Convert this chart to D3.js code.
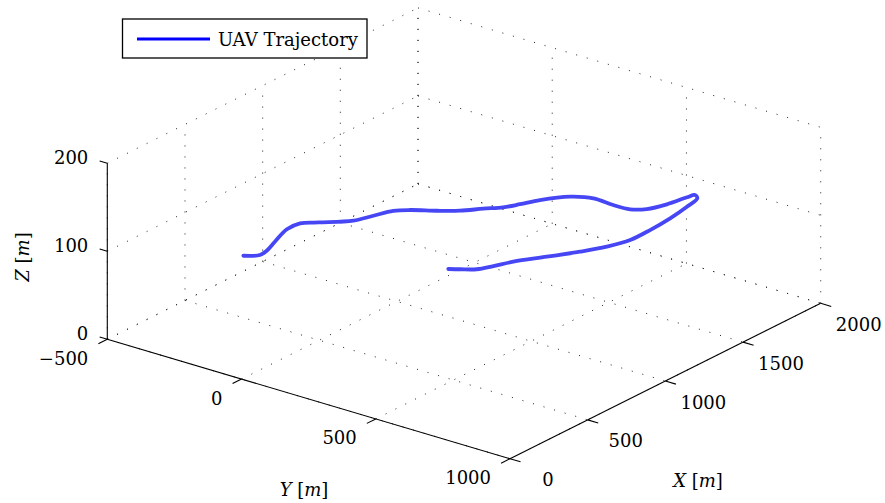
<!DOCTYPE html>
<html>
<head>
<meta charset="utf-8">
<script src="https://cdn.jsdelivr.net/npm/d3@7"></script>
<style>
  html, body { margin: 0; padding: 0; background: #fff; }
</style>
</head>
<body>
<svg id="chart" width="885" height="503"></svg>
<script>
// ---------------- data ----------------
const xTicks = [0, 500, 1000, 1500, 2000];
const yTicks = [-500, 0, 500, 1000];
const zTicks = [0, 100, 200];
const xTickLabels = ["0", "500", "1000", "1500", "2000"];
const yTickLabels = ["\u2212500", "0", "500", "1000"];
const zTickLabels = ["0", "100", "200"];
const seriesName = "UAV Trajectory";

// UAV trajectory (metres)
const trajX = [290, 336, 387, 479, 608, 688, 740, 837, 925, 1011, 1059, 1117, 1173, 1245, 1304, 1369, 1451, 1550, 1593, 1586, 1592, 1634, 1720, 1825, 1863, 1842, 1749, 1615, 1472, 1344, 1234, 1129, 1009, 889, 806, 740, 700, 674];
const trajY = [-161, -126, -130, -153, -183, -180, -140, -68, -44, -20, 15, 81, 135, 180, 220, 245, 272, 327, 389, 467, 526, 564, 589, 603, 611, 632, 647, 662, 670, 670, 646, 607, 553, 498, 472, 448, 409, 380];
const trajZ = [100, 100, 100, 100, 100, 100, 100, 100, 100, 100, 100, 100, 100, 100, 100, 100, 100, 100, 100, 100, 100, 100, 100, 100, 100, 100, 100, 100, 100, 100, 100, 100, 100, 100, 100, 100, 100, 100];

// ---------------- projection ----------------
const xS = d3.scaleLinear().domain([0, 2000]).range([0, 1]);
const yS = d3.scaleLinear().domain([-500, 1000]).range([0, 1]);
const zS = d3.scaleLinear().domain([0, 200]).range([0, 1]);
const P0 = [107.3, 339.3];
const vX = [310.7, -155.4];
const vY = [402.7, 119.4];
const vZ = [0, -176];
function proj(X, Y, Z) {
  const a = xS(X), b = yS(Y), c = zS(Z);
  return [P0[0] + a * vX[0] + b * vY[0] + c * vZ[0],
          P0[1] + a * vX[1] + b * vY[1] + c * vZ[1]];
}
function unit(v) { const l = Math.hypot(v[0], v[1]); return [v[0] / l, v[1] / l]; }
const uX = unit(vX), uY = unit(vY);

const FONT = "'DejaVu Serif', 'Liberation Serif', serif";
const svg = d3.select("#chart").style("font-family", FONT);
const FS = 18;

// ---------------- grid ----------------
const gGrid = svg.append("g")
  .attr("stroke", "#222").attr("stroke-width", 1)
  .attr("stroke-dasharray", "1,10").attr("fill", "none");
function seg(a, b) {
  gGrid.append("line").attr("x1", a[0]).attr("y1", a[1]).attr("x2", b[0]).attr("y2", b[1]);
}
const [x0, x1] = xS.domain(), [y0, y1] = yS.domain(), [z0, z1] = zS.domain();
xTicks.forEach(x => seg(proj(x, y0, z0), proj(x, y1, z0)));
yTicks.forEach(y => seg(proj(x0, y, z0), proj(x1, y, z0)));
xTicks.forEach(x => seg(proj(x, y0, z0), proj(x, y0, z1)));
zTicks.forEach(z => seg(proj(x0, y0, z), proj(x1, y0, z)));
yTicks.forEach(y => seg(proj(x1, y, z0), proj(x1, y, z1)));
zTicks.forEach(z => seg(proj(x1, y0, z), proj(x1, y1, z)));

// ---------------- trajectory ----------------
const pts = trajX.map((x, i) => proj(x, trajY[i], trajZ[i]));
svg.append("path")
  .attr("d", d3.line().curve(d3.curveCatmullRom.alpha(0.5))(pts))
  .attr("fill", "none")
  .attr("stroke", "#4646f5")
  .attr("stroke-width", 3.8)
  .attr("stroke-linejoin", "round")
  .attr("stroke-linecap", "round");

// ---------------- axes ----------------
const gAx = svg.append("g").attr("stroke", "#000").attr("stroke-width", 1.1).attr("fill", "none");
function aline(a, b) {
  gAx.append("line").attr("x1", a[0]).attr("y1", a[1]).attr("x2", b[0]).attr("y2", b[1]);
}
aline(proj(x0, y0, z0), proj(x0, y0, z1));
aline(proj(x0, y0, z0), proj(x0, y1, z0));
aline(proj(x0, y1, z0), proj(x1, y1, z0));

const gLab = svg.append("g").attr("font-size", FS).attr("font-family", FONT).attr("fill", "#000");

zTicks.forEach((z, i) => {
  const p = proj(x0, y0, z);
  aline(p, [p[0] - uY[0] * 8, p[1] - uY[1] * 8]);
  gLab.append("text").attr("x", p[0] - 19).attr("y", p[1] + 1)
    .attr("text-anchor", "end").text(zTickLabels[i]);
});
yTicks.forEach((y, i) => {
  const p = proj(x0, y, z0);
  aline(p, [p[0] - uX[0] * 10, p[1] - uX[1] * 10]);
  gLab.append("text").attr("x", p[0] - 19).attr("y", p[1] + 25.5)
    .attr("text-anchor", "end").text(yTickLabels[i]);
});
xTicks.forEach((x, i) => {
  const p = proj(x, y1, z0);
  aline(p, [p[0] + uY[0] * 11, p[1] + uY[1] * 11]);
  gLab.append("text").attr("x", p[0] + 38).attr("y", p[1] + 27.5)
    .attr("text-anchor", "middle").text(xTickLabels[i]);
});

function mathLabel(sel, v) {
  sel.append("tspan").attr("font-style", "italic").text(v);
  sel.append("tspan").text("\u00a0[");
  sel.append("tspan").attr("font-style", "italic").text("m");
  sel.append("tspan").text("]");
}
mathLabel(gLab.append("text").attr("x", 698).attr("y", 487).attr("text-anchor", "middle"), "X");
mathLabel(gLab.append("text").attr("x", 304).attr("y", 496).attr("text-anchor", "middle"), "Y");
mathLabel(gLab.append("text").attr("text-anchor", "middle")
  .attr("transform", "translate(29,257) rotate(-90)"), "Z");

// ---------------- legend ----------------
const gLeg = svg.append("g");
gLeg.append("rect").attr("x", 122.5).attr("y", 19).attr("width", 244.5).attr("height", 39)
  .attr("fill", "#fff").attr("stroke", "#000").attr("stroke-width", 1.3);
gLeg.append("line").attr("x1", 137).attr("y1", 39).attr("x2", 210).attr("y2", 39)
  .attr("stroke", "#0000ff").attr("stroke-width", 3);
gLeg.append("text").attr("x", 218).attr("y", 45.5).attr("font-size", FS)
  .attr("font-family", FONT).text(seriesName);
</script>
</body>
</html>
